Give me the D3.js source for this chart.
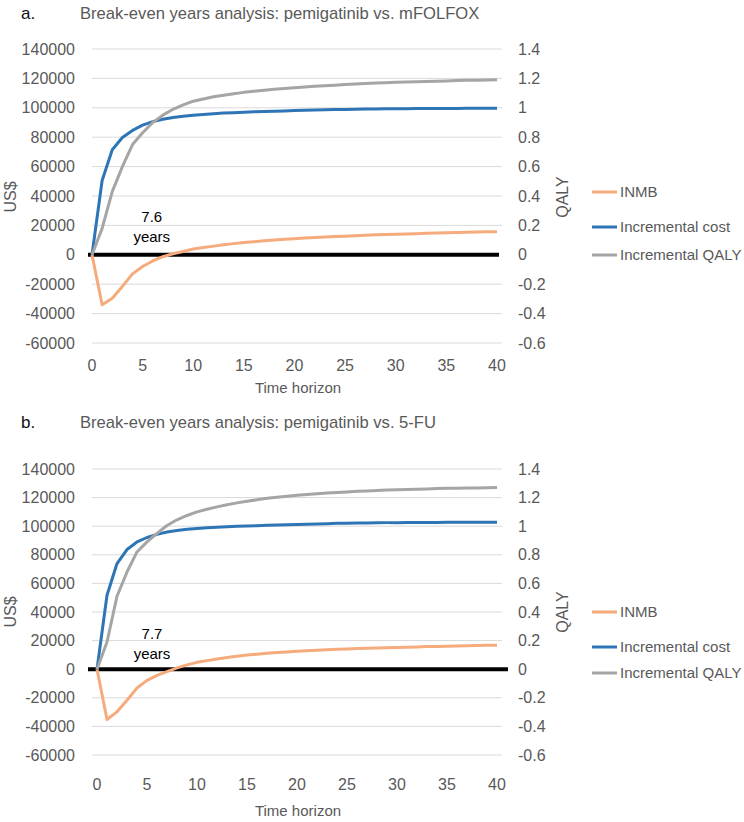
<!DOCTYPE html>
<html>
<head>
<meta charset="UTF-8">
<script src="https://d3js.org/d3.v7.min.js"></script>
<style>
    body { margin: 0; background: #fff; }
    text { font-family: "Liberation Sans", Arial, sans-serif; }
</style>
</head>
<body>
<svg id="chart" width="744" height="822"></svg>
<script>
// categories (years of time horizon)
const years = d3.range(0, 41);
const xTicks = [0, 5, 10, 15, 20, 25, 30, 35, 40];
const leftTicks = [-60000, -40000, -20000, 0, 20000, 40000, 60000, 80000, 100000, 120000, 140000];
const rightTicks = ["-0.6", "-0.4", "-0.2", "0", "0.2", "0.4", "0.6", "0.8", "1", "1.2", "1.4"];
const seriesNames = ["INMB", "Incremental cost", "Incremental QALY"];
const seriesColors = ["#f5ab7c", "#2e75b6", "#a5a5a5"];

// a. pemigatinib vs. mFOLFOX
const inmbA = [0, -34000, -29500, -21500, -13000, -8000, -4200, -1300, 700, 2300, 3900,
    5000, 5900, 6800, 7600, 8300, 8900, 9500, 10000, 10500, 11000,
    11400, 11800, 12100, 12400, 12700, 13000, 13300, 13600, 13800, 14000,
    14200, 14400, 14600, 14800, 15000, 15200, 15300, 15500, 15600, 15700];
const costA = [0, 50500, 71500, 79800, 84600, 88200, 90600, 92200, 93400, 94300, 95000,
    95500, 96000, 96400, 96700, 97000, 97300, 97500, 97700, 97900, 98100,
    98300, 98500, 98600, 98800, 98900, 99000, 99100, 99200, 99300, 99400,
    99400, 99500, 99500, 99600, 99600, 99600, 99700, 99700, 99700, 99700];
const qalyA = [0, 0.18, 0.43, 0.60, 0.75, 0.83, 0.90, 0.95, 0.99, 1.02, 1.045,
    1.06, 1.075, 1.085, 1.095, 1.105, 1.112, 1.12, 1.126, 1.131, 1.136,
    1.141, 1.146, 1.15, 1.154, 1.158, 1.162, 1.165, 1.168, 1.171, 1.173,
    1.175, 1.177, 1.179, 1.181, 1.183, 1.185, 1.187, 1.188, 1.189, 1.19];

// b. pemigatinib vs. 5-FU
const inmbB = [0, -35200, -29800, -21700, -13100, -7800, -4300, -1700, 900, 3000, 4800,
    6000, 7200, 8200, 9100, 9900, 10500, 11100, 11600, 12100, 12500,
    12900, 13300, 13600, 13900, 14200, 14400, 14600, 14800, 15000, 15200,
    15400, 15600, 15800, 15900, 16100, 16300, 16400, 16500, 16700, 16800];
const costB = [0, 51700, 73900, 83700, 89000, 92100, 94300, 95900, 97000, 97800, 98400,
    98900, 99300, 99600, 99900, 100200, 100400, 100600, 100800, 101000, 101200,
    101400, 101600, 101800, 102000, 102100, 102200, 102300, 102400, 102500, 102500,
    102600, 102600, 102600, 102600, 102700, 102700, 102700, 102700, 102700, 102700];
const qalyB = [0, 0.19, 0.51, 0.68, 0.82, 0.89, 0.95, 1.005, 1.045, 1.075, 1.10,
    1.118, 1.135, 1.15, 1.163, 1.175, 1.185, 1.195, 1.203, 1.21, 1.217,
    1.222, 1.227, 1.232, 1.236, 1.24, 1.244, 1.247, 1.25, 1.253, 1.255,
    1.257, 1.259, 1.261, 1.263, 1.265, 1.266, 1.267, 1.268, 1.269, 1.27];

const svg = d3.select("#chart");

function drawChart(cfg) {
    const g = svg.append("g");

    const x = d3.scaleLinear().domain(cfg.xDomain).range([cfg.left, cfg.right]);
    const y = d3.scaleLinear().domain([-60000, 140000]).range([cfg.bottom, cfg.top]);
    const y2 = d3.scaleLinear().domain([-0.6, 1.4]).range([cfg.bottom, cfg.top]);

    // titles
    g.append("text").attr("x", 21).attr("y", cfg.titleY)
        .style("font-size", "17px").attr("fill", "#111").text(cfg.letter);
    g.append("text").attr("x", 80).attr("y", cfg.titleY)
        .style("font-size", "16.6px").attr("fill", "#595959").text(cfg.title);

    // gridlines
    g.selectAll(".grid").data(leftTicks.filter(d => d !== 0)).enter().append("line")
        .attr("x1", cfg.gridL).attr("x2", cfg.gridR)
        .attr("y1", d => y(d)).attr("y2", d => y(d))
        .attr("stroke", "#d9d9d9").attr("stroke-width", 1);

    // left tick labels
    g.selectAll(".lt").data(leftTicks).enter().append("text")
        .attr("x", 75).attr("y", d => y(d)).attr("dy", "0.35em")
        .attr("text-anchor", "end").style("font-size", "16px").attr("fill", "#595959")
        .text(d => String(d));

    // right tick labels
    g.selectAll(".rt").data(rightTicks).enter().append("text")
        .attr("x", 518).attr("y", d => y2(+d)).attr("dy", "0.35em")
        .style("font-size", "16px").attr("fill", "#595959")
        .text(d => d);

    // x tick labels
    g.selectAll(".xt").data(xTicks).enter().append("text")
        .attr("x", d => x(d)).attr("y", cfg.xLabelY).attr("dy", "0.35em")
        .attr("text-anchor", "middle").style("font-size", "16px").attr("fill", "#595959")
        .text(d => d);

    g.append("text").attr("x", 298).attr("y", cfg.xTitleY).attr("dy", "0.35em")
        .attr("text-anchor", "middle").style("font-size", "15px").attr("fill", "#595959")
        .text("Time horizon");

    // axis titles
    g.append("text").attr("transform", `translate(10,${cfg.axisTitleY}) rotate(-90)`)
        .attr("dy", "0.35em").attr("text-anchor", "middle")
        .style("font-size", "16px").attr("fill", "#595959").text("US$");
    g.append("text").attr("transform", `translate(562,${cfg.axisTitleY}) rotate(-90)`)
        .attr("dy", "0.35em").attr("text-anchor", "middle")
        .style("font-size", "16px").attr("fill", "#595959").text("QALY");

    // zero line (thick black)
    g.append("line")
        .attr("x1", 88).attr("x2", cfg.zeroR)
        .attr("y1", y(0)).attr("y2", y(0))
        .attr("stroke", "#000").attr("stroke-width", 4);

    // series
    const lineL = d3.line().x((d, i) => x(years[i])).y(d => y(d));
    const lineR = d3.line().x((d, i) => x(years[i])).y(d => y2(d));
    const series = [
        { vals: cfg.inmb, line: lineL },
        { vals: cfg.cost, line: lineL },
        { vals: cfg.qaly, line: lineR }
    ];
    series.forEach((s, i) => {
        g.append("path").datum(s.vals)
            .attr("d", s.line)
            .attr("fill", "none")
            .attr("stroke", seriesColors[i])
            .attr("stroke-width", 3)
            .attr("stroke-linejoin", "round");
    });

    // break-even annotation
    g.append("text").attr("x", x(cfg.noteX)).attr("y", y(cfg.noteY)).attr("dy", "0.35em")
        .attr("text-anchor", "middle").style("font-size", "15px").attr("fill", "#000")
        .text(cfg.note);
    g.append("text").attr("x", x(cfg.noteX)).attr("y", y(cfg.noteY) + 20).attr("dy", "0.35em")
        .attr("text-anchor", "middle").style("font-size", "15px").attr("fill", "#000")
        .text("years");

    // legend
    seriesNames.forEach((name, i) => {
        const ly = cfg.legendY[i];
        g.append("line").attr("x1", 592).attr("x2", 617).attr("y1", ly).attr("y2", ly)
            .attr("stroke", seriesColors[i]).attr("stroke-width", 3);
        g.append("text").attr("x", 620).attr("y", ly).attr("dy", "0.35em")
            .style("font-size", "15px").attr("fill", "#595959").text(name);
    });
}

drawChart({
    letter: "a.", title: "Break-even years analysis: pemigatinib vs. mFOLFOX", titleY: 19,
    top: 49, bottom: 343, left: 92, right: 497, xDomain: [0, 40],
    gridL: 92, gridR: 502, zeroR: 499,
    xLabelY: 365, xTitleY: 388, axisTitleY: 197,
    inmb: inmbA, cost: costA, qaly: qalyA,
    note: "7.6", noteX: 5.9, noteY: 26000,
    legendY: [192, 227, 255]
});

drawChart({
    letter: "b.", title: "Break-even years analysis: pemigatinib vs. 5-FU", titleY: 428,
    top: 469, bottom: 755, left: 97, right: 497, xDomain: [0, 40],
    gridL: 92, gridR: 502, zeroR: 508,
    xLabelY: 784, xTitleY: 811, axisTitleY: 612,
    inmb: inmbB, cost: costB, qaly: qalyB,
    note: "7.7", noteX: 5.5, noteY: 25000,
    legendY: [612, 647, 673]
});
</script>
</body>
</html>
